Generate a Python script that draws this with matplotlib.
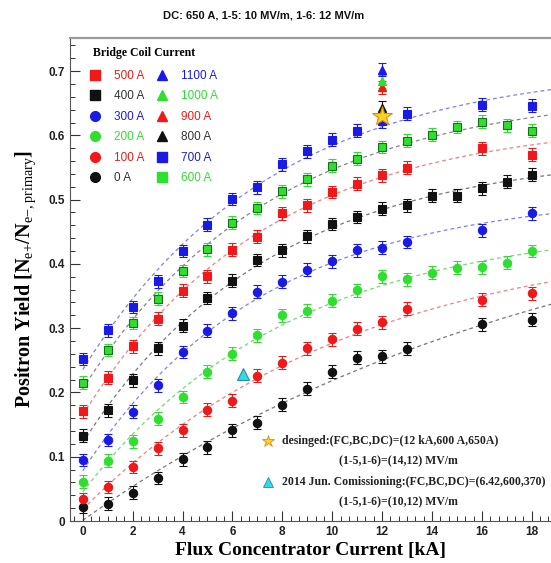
import numpy as np
import matplotlib
matplotlib.use('Agg')
import matplotlib.pyplot as plt
from matplotlib.lines import Line2D
from matplotlib.ticker import MultipleLocator

plt.rcParams['font.family'] = 'Liberation Sans'
plt.rcParams['mathtext.fontset'] = 'custom'
plt.rcParams['mathtext.rm'] = 'Liberation Serif'

# flux concentrator current [kA]
x_full = list(range(19))
x_part = list(range(14)) + [16, 18]

# positron yield per bridge coil current
y_0A = [0.022, 0.027, 0.044, 0.067, 0.096, 0.115, 0.141, 0.153, 0.181, 0.206,
        0.232, 0.254, 0.256, 0.268, 0.306, 0.313]
y_100A = [0.034, 0.053, 0.084, 0.113, 0.141, 0.173, 0.187, 0.226, 0.246, 0.269,
          0.283, 0.299, 0.309, 0.330, 0.344, 0.354]
y_200A = [0.061, 0.094, 0.124, 0.159, 0.193, 0.232, 0.260, 0.289, 0.320, 0.327,
          0.343, 0.359, 0.381, 0.376, 0.386, 0.394, 0.395, 0.402, 0.420]
y_300A = [0.095, 0.126, 0.170, 0.211, 0.263, 0.296, 0.323, 0.357, 0.372, 0.391,
          0.404, 0.421, 0.425, 0.434, 0.452, 0.479]
y_400A = [0.133, 0.172, 0.219, 0.269, 0.304, 0.347, 0.374, 0.406, 0.421, 0.443,
          0.462, 0.473, 0.486, 0.491, 0.506, 0.506, 0.518, 0.528, 0.539]
y_500A = [0.171, 0.223, 0.272, 0.315, 0.358, 0.381, 0.422, 0.442, 0.479, 0.491,
          0.512, 0.525, 0.538, 0.550, 0.580, 0.570]
y_600A = [0.215, 0.266, 0.308, 0.346, 0.389, 0.423, 0.464, 0.487, 0.513, 0.532,
          0.553, 0.564, 0.582, 0.592, 0.601, 0.613, 0.621, 0.616, 0.607]
y_700A = [0.252, 0.297, 0.333, 0.373, 0.420, 0.461, 0.501, 0.519, 0.555, 0.575,
          0.593, 0.607, 0.622, 0.634, 0.648, 0.646]

# high bridge coil currents, only measured at 12 kA
x_high = [12]
y_800A = [0.643]
y_900A = [0.675]
y_1000A = [0.684]
y_1100A = [0.702]

# design point and 2014 commissioning point
design_x, design_y = [12], [0.630]
comm_x, comm_y = [6.42], [0.229]

err = 0.01

RED = '#f01818'
BLACK = '#111111'
BLUE = '#1a1ae6'
GREEN = '#2ee02e'

# label, x, y, colour, marker, fit colour
series = [
    ('0 A', x_part, y_0A, BLACK, 'o', '#555555'),
    ('100 A', x_part, y_100A, RED, 'o', '#f06060'),
    ('200 A', x_full, y_200A, GREEN, 'o', '#50d050'),
    ('300 A', x_part, y_300A, BLUE, 'o', '#6060e8'),
    ('400 A', x_full, y_400A, BLACK, 's', '#555555'),
    ('500 A', x_part, y_500A, RED, 's', '#f06060'),
    ('600 A', x_full, y_600A, GREEN, 's', '#666666'),
    ('700 A', x_part, y_700A, BLUE, 's', '#6060e8'),
]
high_series = [
    ('800 A', y_800A, BLACK),
    ('900 A', y_900A, RED),
    ('1000 A', y_1000A, GREEN),
    ('1100 A', y_1100A, BLUE),
]


def saturation_fit(x, y):
    # y = c + a * (1 - exp(-x / t)), scan t, linear least squares for a, c
    x = np.asarray(x, float)
    y = np.asarray(y, float)
    best = None
    for t in np.geomspace(1, 500, 400):
        A = np.column_stack([np.ones_like(x), 1 - np.exp(-x / t)])
        coef = np.linalg.lstsq(A, y, rcond=None)[0]
        r = np.sum((A @ coef - y) ** 2)
        if best is None or r < best[0]:
            best = (r, t, coef)
    return best[1], best[2]


fig = plt.figure(figsize=(5.51, 5.63), dpi=100)
ax = fig.add_axes([70 / 551, 42 / 563, 481 / 551, 483 / 563])

xc = np.linspace(0, 18.8, 200)
for label, x, y, col, mk, fcol in series:
    t, coef = saturation_fit(x, y)
    ax.plot(xc, coef[0] + coef[1] * (1 - np.exp(-xc / t)), ls=(0, (3, 2.5)),
            lw=0.9, color=fcol, alpha=0.8, zorder=1)
    ec = '#1c6e1c' if (mk == 's' and col == GREEN) else col
    ax.errorbar(x, y, yerr=err, fmt=mk, ms=6, mfc=col, mec=ec, mew=0.8,
                ecolor=col, elinewidth=0.8, capsize=3, capthick=0.8, zorder=3)

for label, y, col in high_series:
    ax.errorbar(x_high, y, yerr=err, fmt='^', ms=6, mfc=col, mec=col,
                ecolor=col, elinewidth=0.8, capsize=3, capthick=0.8, zorder=3)

ax.plot(design_x, design_y, marker='*', ms=15, mfc='#ffd21f', mec='#e08a10',
        mew=0.8, ls='none', zorder=5)
ax.plot(comm_x, comm_y, marker='^', ms=9, mfc='#35d8e8', mec='#2090a8',
        mew=0.8, ls='none', zorder=5)

ax.set_xlim(-0.51, 18.77)
ax.set_ylim(0, 0.7515)
ax.xaxis.set_major_locator(MultipleLocator(2))
ax.xaxis.set_minor_locator(MultipleLocator(1 / 3))
ax.yaxis.set_major_locator(MultipleLocator(0.1))
ax.yaxis.set_minor_locator(MultipleLocator(0.02))
ax.yaxis.set_major_formatter(plt.FuncFormatter(lambda v, _: '0' if v == 0 else f'{v:.1f}'))
ax.tick_params(which='both', direction='in', top=False, right=False,
               colors='#333333', labelcolor='#222222', labelsize=8.5)
ax.tick_params(which='major', length=7, width=0.8)
ax.tick_params(which='minor', length=3.5, width=0.7)
for lab in ax.get_xticklabels() + ax.get_yticklabels():
    lab.set_fontweight('bold')
ax.spines['top'].set_color('#999999')
ax.spines['top'].set_linewidth(1.6)
ax.spines['right'].set_visible(False)
ax.spines['left'].set_color('#555555')
ax.spines['bottom'].set_color('#555555')

ax.set_xlabel('Flux Concentrator Current [kA]', family='Liberation Serif',
              weight='bold', fontsize=14, labelpad=3)
ax.set_ylabel(r'Positron Yield [N$_{\mathrm{e{+}}}$/N$_{\mathrm{e{-},primary}}$]',
              family='Liberation Serif', weight='bold', fontsize=14.5, labelpad=8)
fig.text(0.478, 0.972, 'DC: 650 A, 1-5: 10 MV/m, 1-6: 12 MV/m', ha='center',
         va='center', fontsize=8, weight='bold', color='#111111')

# bridge coil legend
order = ['500 A', '400 A', '300 A', '200 A', '100 A', '0 A',
         '1100 A', '1000 A', '900 A', '800 A', '700 A', '600 A']
style = {lab: (col, mk) for lab, _, _, col, mk, _ in series}
style.update({lab: (col, '^') for lab, _, col in high_series})
handles = []
for lab in order:
    col, mk = style[lab]
    handles.append(Line2D([], [], ls='none', marker=mk, ms=7, mfc=col, mec=col))
txt_col = {BLACK: '#333333', RED: RED, BLUE: BLUE, GREEN: GREEN}
leg = ax.legend(handles, order, ncol=2, loc='upper left',
                bbox_to_anchor=(0.028, 0.992), frameon=False, fontsize=8.5,
                handlelength=1.2, handletextpad=1.0, columnspacing=0.9,
                labelspacing=0.72, borderaxespad=0,
                labelcolor=[txt_col[style[l][0]] for l in order],
                title='Bridge Coil Current', alignment='left',
                title_fontproperties={'family': 'Liberation Serif',
                                      'weight': 'bold', 'size': 8.5})
leg._legend_box.sep = 8
leg.get_title().set_position((5, 0))

# annotation keys
tr = ax.transAxes
ax.plot([0.411], [0.166], marker='*', ms=9, mfc='#ffd21f', mec='#e08a10',
        mew=0.6, transform=tr, clip_on=False)
ax.plot([0.411], [0.081], marker='^', ms=6.5, mfc='#35d8e8', mec='#2090a8',
        mew=0.6, transform=tr, clip_on=False)
tkw = dict(transform=tr, family='Liberation Serif', weight='bold', fontsize=8.5,
           va='center', color='#222222')
ax.text(0.44, 0.166, 'desinged:(FC,BC,DC)=(12 kA,600 A,650A)', **tkw)
ax.text(0.56, 0.123, '(1-5,1-6)=(14,12) MV/m', **tkw)
ax.text(0.44, 0.081, '2014 Jun. Comissioning:(FC,BC,DC)=(6.42,600,370)', **tkw)
ax.text(0.56, 0.038, '(1-5,1-6)=(10,12) MV/m', **tkw)

fig.savefig('out.png', dpi=100)
